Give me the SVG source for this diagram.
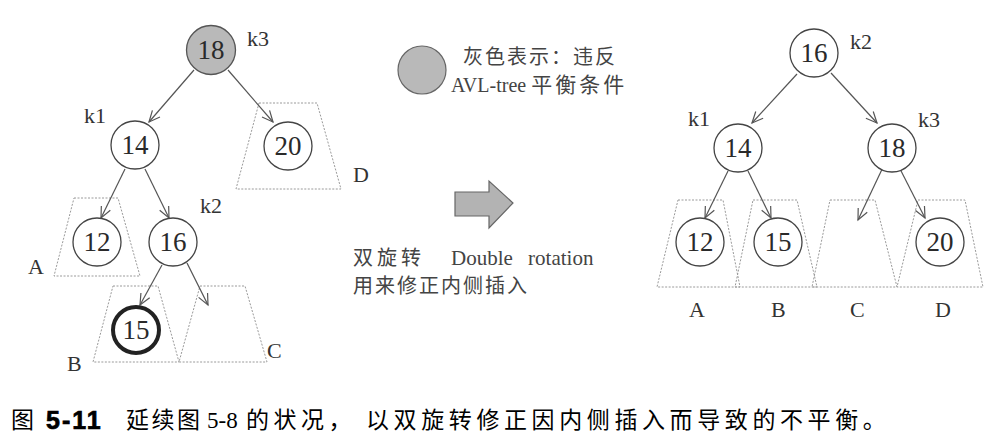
<svg xmlns="http://www.w3.org/2000/svg" width="1008" height="448" viewBox="0 0 1008 448">
<style>
.node circle{fill:#fff;stroke:#444;stroke-width:1.3}
.num{font-family:"Liberation Serif",serif;font-size:27px;fill:#2a2a2a;text-anchor:middle}
.lbl{font-family:"Liberation Serif",serif;font-size:22px;fill:#333}
.trap{fill:none;stroke:#9a9a9a;stroke-width:1;stroke-dasharray:2 1.5}
.edge{stroke:#555;stroke-width:1.2;fill:none;marker-end:url(#ah)}
.cjk{font-family:"Noto Sans CJK SC",sans-serif;fill:#444;font-size:20px}
.cap{font-family:"Noto Sans CJK SC",sans-serif;fill:#000;font-size:23px}
</style>
<defs>
<marker id="ah" markerWidth="14" markerHeight="14" refX="12" refY="6" orient="auto" markerUnits="userSpaceOnUse">
<path d="M1,1 L12,6 L1,11" fill="none" stroke="#555" stroke-width="1.2"/>
</marker>
</defs>
<rect width="1008" height="448" fill="#fff"/>

<!-- subtree trapezoids (left) -->
<g id="subtrees-left">
<polygon class="trap" points="259,103 317,103 341,189 236,189"/>
<polygon class="trap" points="74,198 118,198 140,276 54,276"/>
<polygon class="trap" points="113,286 158,286 179,362 93,362"/>
<polygon class="trap" points="200,286 245,286 267,362 179,362"/>
</g>
<!-- subtree trapezoids (right) -->
<g id="subtrees-right">
<polygon class="trap" points="678,200 723,200 740,287 657,287"/>
<polygon class="trap" points="753,200 797,200 817,287 735,287"/>
<polygon class="trap" points="830,200 875,200 897,287 812,287"/>
<polygon class="trap" points="918,200 965,200 983,287 897,287"/>
</g>

<g id="connectors">
<line class="edge" x1="194" y1="70" x2="149" y2="122"/>
<line class="edge" x1="228" y1="70" x2="273" y2="122"/>
<line class="edge" x1="125" y1="169" x2="101" y2="218"/>
<line class="edge" x1="145" y1="169" x2="169" y2="218"/>
<line class="edge" x1="162" y1="265" x2="140" y2="305"/>
<line class="edge" x1="187" y1="263" x2="208" y2="305"/>
<line class="edge" x1="797" y1="74" x2="752" y2="123"/>
<line class="edge" x1="831" y1="73" x2="877" y2="123"/>
<line class="edge" x1="728" y1="171" x2="705" y2="218"/>
<line class="edge" x1="748" y1="171" x2="771" y2="218"/>
<line class="edge" x1="885" y1="163" x2="858" y2="220"/>
<line class="edge" x1="897" y1="163" x2="925" y2="218"/>
</g>

<!-- left tree -->
<g id="n18-left" class="node"><circle cx="211" cy="50" r="24.5" style="fill:#b9b9b9;stroke:#555"/><text class="num" x="211" y="59">18</text></g>
<g id="n14-left" class="node"><circle cx="135" cy="145" r="24"/><text class="num" x="135" y="154">14</text></g>
<g id="n20-left" class="node"><circle cx="288" cy="146" r="24"/><text class="num" x="288" y="155">20</text></g>
<g id="n12-left" class="node"><circle cx="97" cy="242" r="24"/><text class="num" x="97" y="251">12</text></g>
<g id="n16-left" class="node"><circle cx="173" cy="242" r="24"/><text class="num" x="173" y="251">16</text></g>
<g id="n15-left" class="node"><circle cx="136" cy="330" r="23" style="stroke:#222;stroke-width:4"/><text class="num" x="136" y="339">15</text></g>
<g id="labels-left">
<text class="lbl" x="247" y="46">k3</text>
<text class="lbl" x="84" y="123">k1</text>
<text class="lbl" x="200" y="213">k2</text>
<text class="lbl" x="353" y="182">D</text>
<text class="lbl" x="28" y="274">A</text>
<text class="lbl" x="67" y="371">B</text>
<text class="lbl" x="267" y="358">C</text>
</g>

<!-- legend -->
<g id="legend">
<circle cx="422" cy="70" r="24" fill="#b9b9b9" stroke="#666" stroke-width="1.2"/>
<text class="cjk" x="463" y="64" letter-spacing="2">灰色表示：违反</text>
<text x="451" y="92" font-family="Liberation Serif, serif" font-size="20" fill="#444">AVL-tree <tspan font-family="Noto Sans CJK SC, sans-serif" letter-spacing="3" font-size="21">平衡条件</tspan></text>
</g>

<!-- big arrow -->
<g id="rotation-arrow">
<polygon points="455,192 489,192 489,181 513,203 489,228 489,216 455,216" fill="#b3b3b3" stroke="#666" stroke-width="1.2"/>
<text class="cjk" x="353" y="265" letter-spacing="4">双旋转</text>
<text x="451" y="265" font-family="Liberation Serif, serif" font-size="21" fill="#444" word-spacing="10">Double rotation</text>
<text class="cjk" x="353" y="293" letter-spacing="2">用来修正内侧插入</text>
</g>

<!-- right tree -->
<g id="n16-right" class="node"><circle cx="814" cy="53" r="24"/><text class="num" x="814" y="62">16</text></g>
<g id="n14-right" class="node"><circle cx="738" cy="148" r="24"/><text class="num" x="738" y="157">14</text></g>
<g id="n18-right" class="node"><circle cx="892" cy="148" r="24"/><text class="num" x="892" y="157">18</text></g>
<g id="n12-right" class="node"><circle cx="700" cy="242" r="24"/><text class="num" x="700" y="251">12</text></g>
<g id="n15-right" class="node"><circle cx="778" cy="242" r="24"/><text class="num" x="778" y="251">15</text></g>
<g id="n20-right" class="node"><circle cx="940" cy="242" r="24"/><text class="num" x="940" y="251">20</text></g>
<g id="labels-right">
<text class="lbl" x="850" y="49">k2</text>
<text class="lbl" x="688" y="126">k1</text>
<text class="lbl" x="918" y="127">k3</text>
<text class="lbl" x="689" y="317">A</text>
<text class="lbl" x="771" y="317">B</text>
<text class="lbl" x="850" y="317">C</text>
<text class="lbl" x="935" y="317">D</text>
</g>

<!-- caption -->
<g id="caption">
<text class="cap" x="11" y="428">图</text>
<text x="46" y="429" font-family="Liberation Sans, sans-serif" font-weight="bold" font-size="25" letter-spacing="2" stroke="#000" stroke-width="0.7">5-11</text>
<text class="cap" x="126" y="428" letter-spacing="2.5">延续图</text>
<text x="207" y="428" font-family="Liberation Serif, serif" font-size="23">5-8</text>
<text class="cap" x="246" y="428" letter-spacing="4.5">的状况，</text>
<text class="cap" x="366" y="428" letter-spacing="4.6">以双旋转修正因内侧插入而导致的不平衡。</text>
</g>
</svg>
